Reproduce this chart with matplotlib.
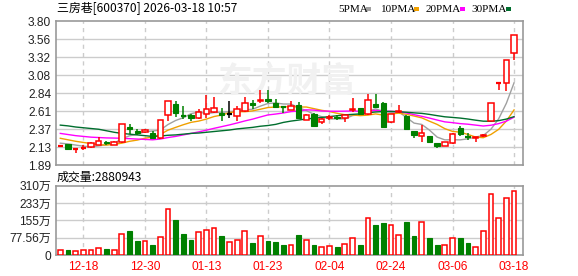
import matplotlib
matplotlib.use('Agg')
import matplotlib.pyplot as plt
import numpy as np
import pandas as pd
from matplotlib.patches import Rectangle

# ---------------- data ----------------
dates = ['12-18', '12-30', '01-13', '01-23', '02-04', '02-24', '03-06', '03-18']
date_idx = [3, 11, 19, 27, 35, 43, 51, 59]

opens = [2.14, 2.165, 2.10, 2.11, 2.125, 2.16, 2.20, 2.16, 2.19, 2.40,
         2.34, 2.33, 2.32, 2.25, 2.56, 2.70, 2.545, 2.555, 2.52, 2.565,
         2.60, 2.58, 2.565, 2.545, 2.61, 2.71, 2.735, 2.765, 2.71, 2.665,
         2.625, 2.69, 2.49, 2.565, 2.46, 2.51, 2.53, 2.51, 2.615, 2.645,
         2.565, 2.70, 2.72, 2.46, 2.59, 2.545, 2.34, 2.28, 2.275, 2.18,
         2.145, 2.18, 2.38, 2.27, 2.245, 2.27, 2.48, 2.98, 2.975, 3.38]
closes = [2.15, 2.10, 2.11, 2.12, 2.18, 2.21, 2.18, 2.20, 2.43, 2.37,
          2.31, 2.35, 2.25, 2.49, 2.74, 2.58, 2.535, 2.515, 2.60, 2.635,
          2.65, 2.55, 2.565, 2.635, 2.72, 2.685, 2.755, 2.745, 2.665, 2.655,
          2.68, 2.51, 2.555, 2.415, 2.50, 2.53, 2.515, 2.555, 2.635, 2.565,
          2.755, 2.665, 2.40, 2.565, 2.605, 2.375, 2.29, 2.31, 2.19, 2.14,
          2.19, 2.30, 2.30, 2.26, 2.26, 2.29, 2.72, 2.99, 3.29, 3.62]
highs = [2.16, 2.17, 2.11, 2.15, 2.19, 2.26, 2.21, 2.21, 2.43, 2.43,
         2.37, 2.37, 2.34, 2.49, 2.74, 2.74, 2.68, 2.57, 2.635, 2.82,
         2.80, 2.645, 2.74, 2.67, 2.80, 2.76, 2.89, 2.89, 2.77, 2.67,
         2.745, 2.73, 2.57, 2.58, 2.52, 2.55, 2.56, 2.56, 2.775, 2.65,
         2.83, 2.84, 2.73, 2.57, 2.69, 2.55, 2.34, 2.42, 2.28, 2.18,
         2.19, 2.31, 2.41, 2.31, 2.265, 2.30, 2.72, 2.99, 3.29, 3.62]
lows = [2.13, 2.10, 2.05, 2.09, 2.12, 2.15, 2.15, 2.15, 2.18, 2.30,
        2.29, 2.32, 2.24, 2.24, 2.47, 2.53, 2.50, 2.48, 2.50, 2.52,
        2.58, 2.48, 2.52, 2.48, 2.60, 2.64, 2.71, 2.72, 2.66, 2.58,
        2.615, 2.51, 2.49, 2.41, 2.44, 2.49, 2.49, 2.46, 2.60, 2.56,
        2.56, 2.66, 2.40, 2.45, 2.58, 2.37, 2.245, 2.19, 2.185, 2.12,
        2.14, 2.17, 2.27, 2.22, 2.19, 2.26, 2.48, 2.89, 2.87, 3.29]
volumes = [24, 21, 19, 21, 24, 33, 25, 24, 95, 106,
           61, 64, 46, 82, 207, 155, 92, 66, 104, 113,
           122, 83, 60, 69, 109, 52, 86, 63, 57, 43,
           46, 88, 69, 43, 37, 42, 34, 51, 77, 43,
           167, 133, 142, 136, 91, 146, 83, 149, 75, 43,
           46, 77, 75, 52, 37, 106, 274, 167, 256, 288]   # 万

# moving-average values before enough history is on screen
ma5_head = [2.18, 2.17, 2.155, 2.14]
ma10_head = [2.245, 2.225, 2.205, 2.19, 2.175, 2.16, 2.155, 2.165, 2.18]
ma20_head = [2.31, 2.295, 2.28, 2.27, 2.26, 2.255, 2.25, 2.248, 2.245, 2.24,
             2.235, 2.23, 2.225, 2.235, 2.255, 2.27, 2.29, 2.31, 2.33]
ma30_head = [2.42, 2.41, 2.395, 2.385, 2.375, 2.365, 2.345, 2.325, 2.31, 2.30,
             2.29, 2.28, 2.27, 2.275, 2.285, 2.29, 2.30, 2.31, 2.315, 2.325,
             2.335, 2.345, 2.355, 2.37, 2.38, 2.39, 2.405, 2.415, 2.43]

price_ticks = ['1.89', '2.13', '2.37', '2.61', '2.84', '3.08', '3.32', '3.56', '3.80']
vol_ticks = ['0', '77.56万', '155万', '233万', '310万']
title = '三房巷[600370] 2026-03-18 10:57'
vol_title = '成交量:2880943'
ma_names = ['5PMA', '10PMA', '20PMA', '30PMA']

# ---------------- style ----------------
RED = '#ff0000'
GREEN = '#008000'
MA_COLORS = ['#a0a0a0', '#f0a000', '#ff00ff', '#006e2e']
GRID = '#cccccc'
SPINE = '#999999'
TXT = '#222222'

W, H = 578, 276
fig = plt.figure(figsize=(W / 100, H / 100), dpi=100)


def rect(l, t, r, b):
    return [l / W, 1 - b / H, (r - l) / W, (b - t) / H]


ax = fig.add_axes(rect(56, 21.3, 522.5, 165))
axv = fig.add_axes(rect(56, 185.7, 522.5, 255))

n = len(closes)
x = np.arange(n)
o = np.array(opens); c = np.array(closes); hi = np.array(highs); lo = np.array(lows)

cs = pd.Series(closes)
mas = []
for win, head in zip([5, 10, 20, 30], [ma5_head, ma10_head, ma20_head, ma30_head]):
    m = cs.rolling(win).mean().to_numpy()
    m[:len(head)] = head
    mas.append(m)

xlim = (-0.56, 60.1)
pmin, pmax = 1.89, 3.80
vmax = 310.24

for a in (ax, axv):
    a.set_xlim(*xlim)
    for s in a.spines.values():
        s.set_color(SPINE)
        s.set_linewidth(1.2)
    a.tick_params(length=0)
    for xi in date_idx:
        a.axvline(xi, color=GRID, lw=1, ls=(0, (3, 3)), zorder=0)

ax.set_ylim(pmin, pmax)
pt = np.linspace(pmin, pmax, len(price_ticks))
ax.set_yticks(pt)
ax.set_yticklabels(price_ticks, fontsize=8.6, color=TXT, family='Liberation Sans')
for v in pt[1:-1]:
    ax.axhline(v, color=GRID, lw=1, zorder=0)
ax.set_xticks([])

# watermark
ax.text(29.5, 3.0, '东方财富', fontsize=25, color='#f1f1f1', ha='center', va='center',
        family='Noto Sans CJK SC', fontweight='bold', zorder=0.5)

# MA lines
for m, col in zip(mas, MA_COLORS):
    ax.plot(x, m, color=col, lw=1.0, zorder=2)

bw = 0.7
minh = 0.014
for i in range(n):
    if c[i] > o[i]:
        col = RED
    elif c[i] < o[i]:
        col = GREEN
    else:
        col = 'black'
    top = max(o[i], c[i]); bot = min(o[i], c[i])
    ax.vlines(x[i], top, hi[i], color=col, lw=1.1, zorder=3)
    ax.vlines(x[i], lo[i], bot, color=col, lw=1.1, zorder=3)
    if top - bot < minh:
        ax.hlines((top + bot) / 2, x[i] - bw / 2, x[i] + bw / 2, color=col, lw=1.6, zorder=4)
    elif col == RED:
        ax.add_patch(Rectangle((x[i] - bw / 2, bot), bw, top - bot, facecolor='white',
                               edgecolor=col, lw=1.1, zorder=4))
    else:
        ax.add_patch(Rectangle((x[i] - bw / 2, bot), bw, top - bot, facecolor=col,
                               edgecolor=col, lw=0.8, zorder=4))

# volume
axv.set_ylim(0, vmax)
vt = np.linspace(0, vmax, len(vol_ticks))
axv.set_yticks(vt)
axv.set_yticklabels(vol_ticks, fontsize=8.6, color=TXT, family=['Liberation Sans', 'Noto Sans CJK SC'])
for v in vt[1:-1]:
    axv.axhline(v, color=GRID, lw=1, zorder=0)
axv.set_xticks(date_idx)
axv.set_xticklabels(dates, fontsize=8.6, color=RED, family='Liberation Sans')
axv.tick_params(axis='x', pad=4)
vw = 0.62
for i in range(n):
    if c[i] >= o[i]:
        axv.add_patch(Rectangle((x[i] - vw / 2, 0), vw, volumes[i], facecolor='white',
                                edgecolor=RED, lw=1.1, zorder=3))
    else:
        axv.add_patch(Rectangle((x[i] - vw / 2, 0), vw, volumes[i], facecolor=GREEN,
                                edgecolor=GREEN, lw=0.8, zorder=3))

# texts
fig.text(57 / W, 1 - 9 / H, title, fontsize=8.6, color='black', va='center', ha='left',
         family=['Noto Sans CJK SC', 'DejaVu Sans'])
fig.text(57 / W, 1 - 177.5 / H, vol_title, fontsize=8.6, color='black', va='center', ha='left',
         family=['Noto Sans CJK SC', 'DejaVu Sans'])

leg_x = [338, 380, 425.5, 471.5]
sq_x = [366, 414, 460, 506]
for name, lx, sx, col in zip(ma_names, leg_x, sq_x, MA_COLORS):
    fig.text(lx / W, 1 - 9.5 / H, name, fontsize=8.1, color='black', va='center', ha='left',
             family='Liberation Serif')
    fig.patches.append(Rectangle((sx / W, 1 - 11 / H), 5 / W, 4 / H, transform=fig.transFigure,
                                 facecolor=col, edgecolor='none'))

fig.savefig('out.png', dpi=100)
